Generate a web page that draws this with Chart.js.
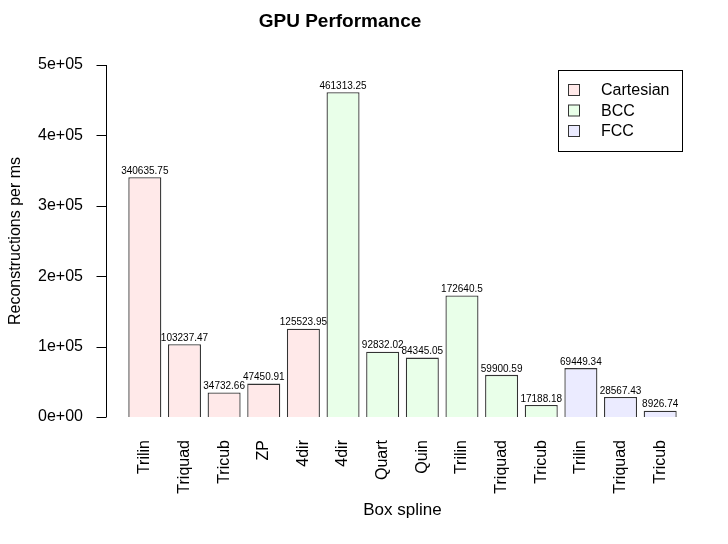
<!DOCTYPE html>
<html>
<head>
<meta charset="utf-8">
<script src="https://cdn.jsdelivr.net/npm/chart.js@4/dist/chart.umd.min.js"></script>
<style>
  html, body { margin: 0; padding: 0; background: #fff; }
  #wrap { width: 728px; height: 544px; }
</style>
</head>
<body>
<div id="wrap"><canvas id="myChart"></canvas></div>
<script>
const ctx = document.getElementById('myChart').getContext('2d');

// datos
const labels = ['Trilin', 'Triquad', 'Tricub', 'ZP', '4dir', '4dir', 'Quart', 'Quin', 'Trilin', 'Triquad', 'Tricub', 'Trilin', 'Triquad', 'Tricub'];
const values = [340635.75, 103237.47, 34732.66, 47450.91, 125523.95, 461313.25, 92832.02, 84345.05, 172640.5, 59900.59, 17188.18, 69449.34, 28567.43, 8926.74];
const groups = ['Cartesian', 'Cartesian', 'Cartesian', 'Cartesian', 'Cartesian', 'BCC', 'BCC', 'BCC', 'BCC', 'BCC', 'BCC', 'FCC', 'FCC', 'FCC'];
const legendNames = ['Cartesian', 'BCC', 'FCC'];
const yTicks = [0, 100000, 200000, 300000, 400000, 500000];

const colores = {
    'Cartesian': '#ffe9e9',
    'BCC': '#e9ffe9',
    'FCC': '#ebebff'
};

const fuente = "Helvetica, Arial, 'Liberation Sans', sans-serif";

function formatoExp(v) {
    const s = Number(v).toExponential(0);
    const partes = s.split('e');
    let exp = parseInt(partes[1], 10);
    const signo = exp < 0 ? '-' : '+';
    exp = Math.abs(exp);
    return partes[0] + 'e' + signo + (exp < 10 ? '0' + exp : exp);
}

// eje y estilo R: linea y marcas separadas del area de barras
const ejeR = {
    id: 'ejeR',
    afterDraw(chart) {
        const c = chart.ctx;
        const y = chart.scales.y;
        const xEje = chart.chartArea.left - 19;
        c.save();
        c.strokeStyle = '#000';
        c.lineWidth = 1;
        c.beginPath();
        c.moveTo(xEje + 0.5, y.getPixelForValue(yTicks[0]));
        c.lineTo(xEje + 0.5, y.getPixelForValue(yTicks[yTicks.length - 1]));
        yTicks.forEach(t => {
            const py = Math.round(y.getPixelForValue(t)) + 0.5;
            c.moveTo(xEje + 0.5, py);
            c.lineTo(xEje - 9.5, py);
        });
        c.stroke();
        c.restore();
    }
};

// etiquetas de valor encima de cada barra
const valoresBarras = {
    id: 'valoresBarras',
    afterDatasetsDraw(chart) {
        const c = chart.ctx;
        const meta = chart.getDatasetMeta(0);
        c.save();
        c.font = '10px ' + fuente;
        c.fillStyle = '#000';
        c.textAlign = 'center';
        c.textBaseline = 'bottom';
        meta.data.forEach((bar, i) => {
            c.fillText(String(values[i]), bar.x, bar.y - 1);
        });
        c.restore();
    }
};

// leyenda con recuadro dentro del area
const leyenda = {
    id: 'leyenda',
    afterDraw(chart) {
        const c = chart.ctx;
        const x0 = 558, y0 = 70, w = 124, h = 81;
        c.save();
        c.strokeStyle = '#000';
        c.lineWidth = 1;
        c.strokeRect(x0 + 0.5, y0 + 0.5, w, h);
        c.font = '16px ' + fuente;
        c.textBaseline = 'middle';
        c.textAlign = 'left';
        legendNames.forEach((n, i) => {
            const cy = y0 + 20 + i * 20.5;
            c.fillStyle = colores[n];
            c.fillRect(x0 + 10.5, cy - 5.5, 11, 11);
            c.strokeStyle = '#333';
            c.strokeRect(x0 + 10.5, cy - 5.5, 11, 11);
            c.fillStyle = '#000';
            c.fillText(n, x0 + 43, cy + 1);
        });
        c.restore();
    }
};

const render = new Chart(ctx, {
    type: 'bar',
    data: {
        labels: labels,
        datasets: [{
            label: 'GPU',
            data: values,
            backgroundColor: groups.map(g => colores[g]),
            borderColor: '#333',
            borderWidth: 1.3,
            barPercentage: 0.833,
            categoryPercentage: 1.0
        }]
    },
    options: {
        responsive: true,
        maintainAspectRatio: false,
        animation: false,
        layout: { padding: { left: 0, right: 48, top: 0, bottom: 0 } },
        plugins: {
            legend: { display: false },
            tooltip: { enabled: false },
            title: {
                display: true,
                text: 'GPU Performance',
                color: '#000',
                font: { family: fuente, size: 19, weight: 'bold' },
                padding: { top: 10, bottom: 32.2 }
            }
        },
        scales: {
            x: {
                grid: { display: false, drawTicks: false },
                border: { display: false },
                ticks: {
                    color: '#000',
                    font: { family: fuente, size: 16 },
                    minRotation: 90,
                    maxRotation: 90,
                    padding: 23,
                    autoSkip: false
                },
                title: {
                    display: true,
                    text: 'Box spline',
                    color: '#000',
                    font: { family: fuente, size: 17 },
                    padding: { top: 0, bottom: 23 }
                },
                afterFit(scale) { scale.height = 127; }
            },
            y: {
                min: 0,
                max: 500000,
                grid: { display: false, drawTicks: false },
                border: { display: false },
                afterBuildTicks(scale) { scale.ticks = yTicks.map(v => ({ value: v })); },
                ticks: {
                    color: '#000',
                    font: { family: fuente, size: 16 },
                    padding: 42,
                    callback: (v) => formatoExp(v)
                },
                title: {
                    display: true,
                    text: 'Reconstructions per ms',
                    color: '#000',
                    font: { family: fuente, size: 16 },
                    padding: { top: 6, bottom: 0 }
                },
                afterFit(scale) { scale.width = 125; }
            }
        }
    },
    plugins: [ejeR, valoresBarras, leyenda]
});
</script>
</body>
</html>
